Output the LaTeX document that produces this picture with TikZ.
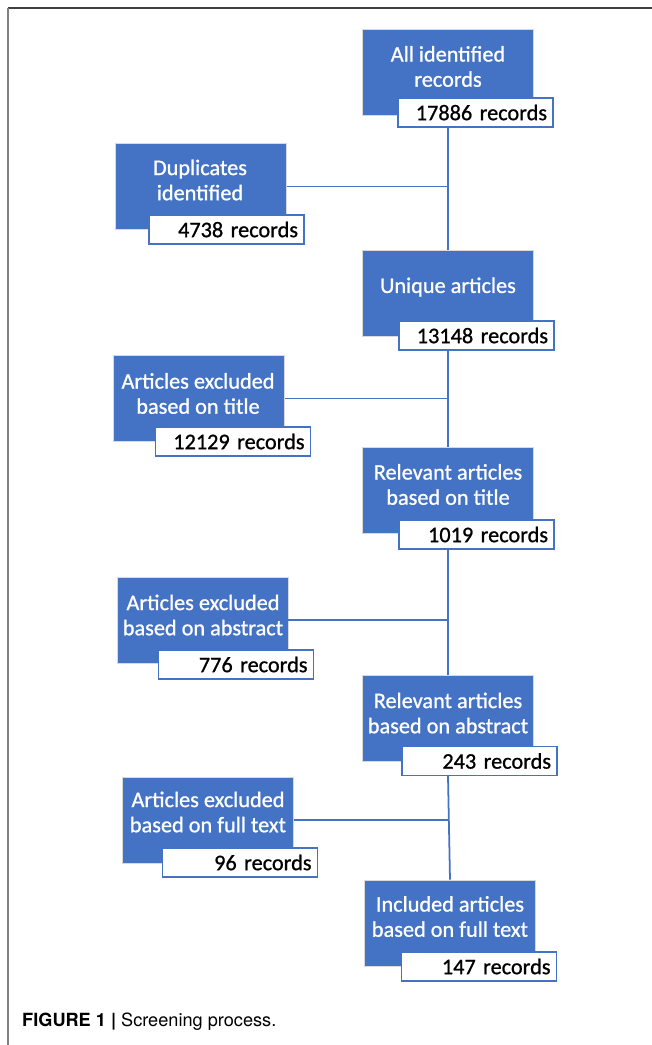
\documentclass[tikz,border=0pt]{standalone}
\usepackage{fontspec}
\setmainfont{Carlito}
\newfontfamily\boxfont[BoldFont=Carlito,BoldFeatures={FakeBold=0.9}]{Carlito}
\newfontfamily\capfont{TeX Gyre Heros}
\usepackage{xcolor}
\usepackage{tikz}
\usetikzlibrary{calc}
\definecolor{boxblue}{HTML}{4472C4}
\newcommand\tightspace{\spaceskip 2.2pt\relax}
\tikzset{
	bluebox/.style={fill=boxblue,draw=black!15,line width=.5pt,
		minimum width=51.3mm,minimum height=25.8mm,inner sep=0pt},
	headtext/.style={text=white,align=center,inner sep=0pt,
		font=\boxfont\bfseries\fontsize{19}{21.5}\selectfont},
	numbox/.style={fill=white,draw=boxblue,line width=.9pt,
		text width=42.9mm,align=right,inner xsep=1.8mm,inner ysep=0pt,
		minimum height=8.7mm,
		font=\boxfont\bfseries\fontsize{19}{21.5}\selectfont\tightspace},
	link/.style={draw=boxblue,line width=1.5pt}
}

\begin{document}
\begin{tikzpicture}[x=.3mm,y=-.3mm]
	\useasboundingbox (0,0) rectangle (652,1045);
	\draw[black!75,line width=.6mm] (7.5,8) -- (652,8);
	\draw[black!50,line width=.6mm] (7.5,8) -- (7.5,1045);

%	====================================================================
	\node[bluebox] (all) at (448,72) {};
	\node[headtext] (allT) at (448,66.5) {All identified\\records};
	\node[numbox] (allN) at (475.5,112.5) {17886 records};

	\node[bluebox] (dup) at (201,186.5) {};
	\node[headtext] (dupT) at (200,180) {Duplicates\\identified};
	\node[numbox] (dupN) at (226.5,229.5) {4738 records};

	\node[bluebox] (uniq) at (448,293.5) {};
	\node[headtext] (uniqT) at (448,287) {Unique articles};
	\node[numbox] (uniqN) at (476.5,335.5) {13148 records};

	\node[bluebox] (extitle) at (199,398.5) {};
	\node[headtext] (extitleT) at (198,393.5) {Articles excluded\\based on title};
	\node[numbox] (extitleN) at (233,441.5) {12129 records};

	\node[bluebox] (reltitle) at (448,490) {};
	\node[headtext] (reltitleT) at (448,484.5) {Relevant articles\\based on title};
	\node[numbox] (reltitleN) at (476.5,534.5) {1019 records};

	\node[bluebox] (exabs) at (202.5,620) {};
	\node[headtext] (exabsT) at (203,615) {Articles excluded\\based on abstract};
	\node[numbox] (exabsN) at (236,664.5) {776 records};

	\node[bluebox] (relabs) at (448,718.5) {};
	\node[headtext] (relabsT) at (448,713) {Relevant articles\\based on abstract};
	\node[numbox] (relabsN) at (479.5,761) {243 records};

	\node[bluebox] (exfull) at (208,820) {};
	\node[headtext] (exfullT) at (208,812) {Articles excluded\\based on full text};
	\node[numbox] (exfullN) at (240,862.5) {96 records};

	\node[bluebox] (incl) at (450,923) {};
	\node[headtext] (inclT) at (450,916.5) {Included articles\\based on full text};
	\node[numbox] (inclN) at (479,966.5) {147 records};

%	====================================================================
	\draw[link] (all.south |- allN.south) -- (uniq.north);
	\draw[link] (uniq.south |- uniqN.south) -- (reltitle.north);
	\draw[link] (reltitle.south |- reltitleN.south) -- (relabs.north);
	\draw[link] (relabs.south |- relabsN.south) -- (incl.north);

	\draw[link] (dup.east) -- (dup.east -| all.south);
	\draw[link] (extitle.east) -- (extitle.east -| uniq.south);
	\draw[link] (exabs.east) -- (exabs.east -| reltitle.south);
	\draw[link] (exfull.east) -- (exfull.east -| relabs.south);

	\node[anchor=west,inner sep=0pt,font=\capfont\fontsize{15.5}{17}\selectfont]
		(caption) at (22,1022) {\textbf{FIGURE 1 |} Screening process.};
\end{tikzpicture}
\end{document}
